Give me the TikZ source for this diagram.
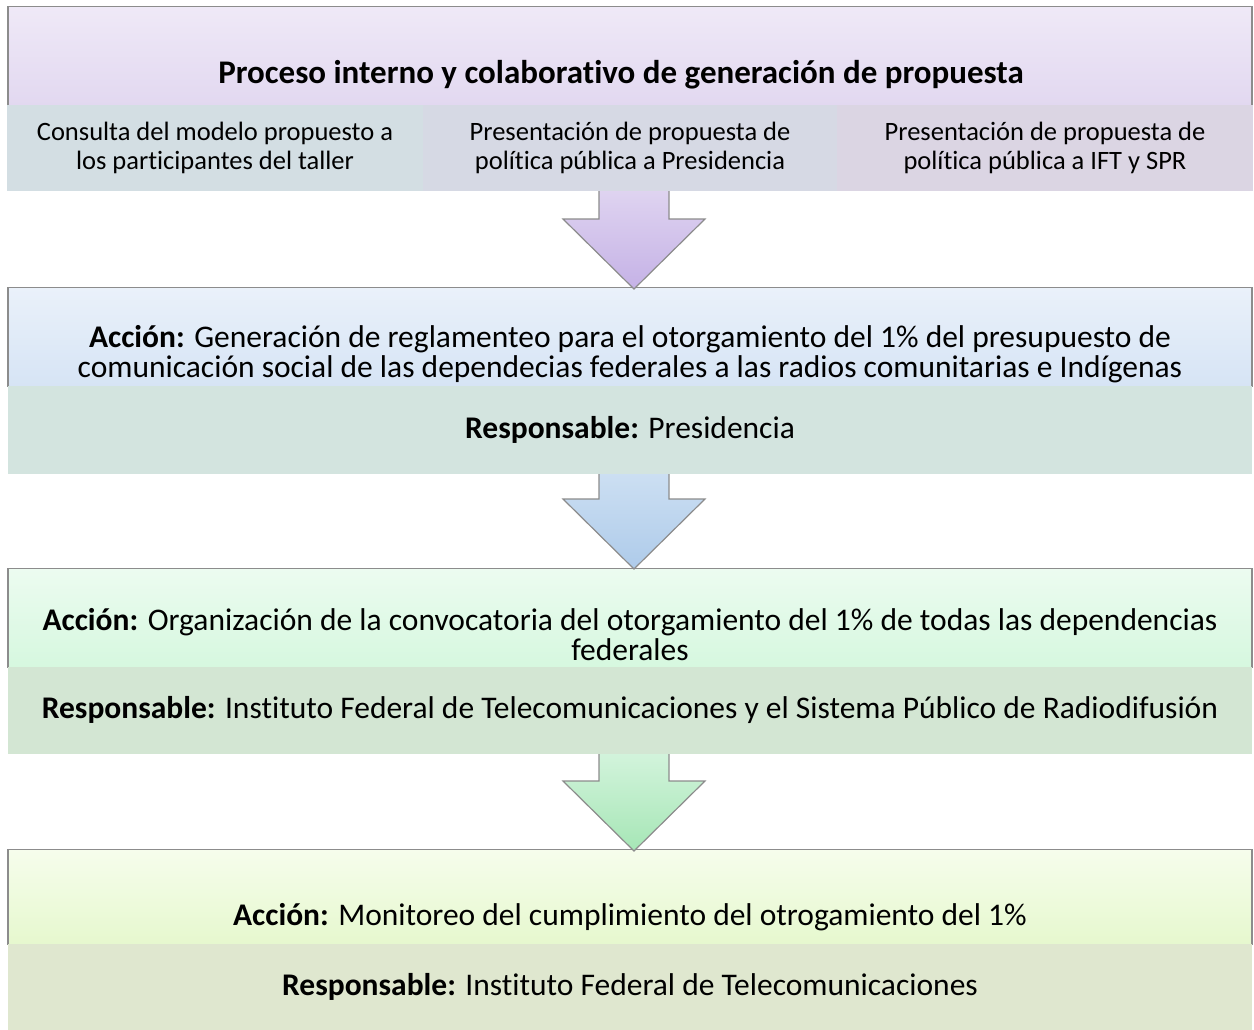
\documentclass[tikz,border=0pt]{standalone}
\usepackage{fontspec}
\setmainfont{Carlito}[Ligatures=NoCommon]
\usetikzlibrary{calc,positioning}

\definecolor{frame}{HTML}{8C8C8C}
\definecolor{headAtop}{HTML}{EFE9F7}
\definecolor{headAbot}{HTML}{E2D8F0}
\definecolor{cellA}{HTML}{D3DEE3}
\definecolor{cellB}{HTML}{D6D9E4}
\definecolor{cellC}{HTML}{DBD5E3}
\definecolor{arrAtop}{HTML}{E3D9F2}
\definecolor{arrAbot}{HTML}{C5B2E6}
\definecolor{headBtop}{HTML}{EAF1FA}
\definecolor{headBbot}{HTML}{D6E4F5}
\definecolor{subB}{HTML}{D3E4DF}
\definecolor{arrBtop}{HTML}{D2E3F4}
\definecolor{arrBbot}{HTML}{AECBEA}
\definecolor{headCtop}{HTML}{ECFBF0}
\definecolor{headCbot}{HTML}{D6F8DF}
\definecolor{subC}{HTML}{D3E6D3}
\definecolor{arrCtop}{HTML}{DAF6E2}
\definecolor{arrCbot}{HTML}{A6E6B6}
\definecolor{headDtop}{HTML}{F6FDEC}
\definecolor{headDbot}{HTML}{E6F8CE}
\definecolor{subD}{HTML}{DFE7CF}

\begin{document}
\begin{tikzpicture}[x=1pt,y=1pt,
    headbox/.style={draw=frame, line width=1.2pt, minimum width=1244pt, minimum height=99pt, inner sep=0pt, anchor=north},
    subbox/.style={minimum width=1244pt, minimum height=87pt, inner sep=0pt, outer sep=0pt, align=center, font=\fontsize{31.5}{30}\selectfont},
    cellbox/.style={minimum width=416pt, minimum height=86pt, inner sep=0pt, outer sep=0pt, align=center, font=\fontsize{26.5}{28.5}\selectfont},
    acttext/.style={align=center, inner sep=0pt, font=\fontsize{31.5}{30}\selectfont},
    bigarrow/.style={draw=frame, line width=1.2pt}]
    \useasboundingbox (0,0) rectangle (1254,-1029);

    % bands
    \node[headbox, top color=headAtop, bottom color=headAbot] (h1) at (630,-6) {};
    \node[headbox, top color=headBtop, bottom color=headBbot] (h2) at (630,-287) {};
    \node[headbox, top color=headCtop, bottom color=headCbot] (h3) at (630,-568) {};
    \node[headbox, minimum height=95pt, top color=headDtop, bottom color=headDbot] (h4) at (630,-849) {};

    % arrows
    \coordinate (t1) at ($(h2.north)+(4,-2)$);
    \coordinate (t2) at ($(h3.north)+(4,-1)$);
    \coordinate (t3) at ($(h4.north)+(4,-2)$);
    \draw[bigarrow, top color=arrAtop, bottom color=arrAbot] (t1) -- ++(-71,70) -- ++(36,0) -- ++(0,45) -- ++(70,0) -- ++(0,-45) -- ++(36,0) -- cycle;
    \draw[bigarrow, top color=arrBtop, bottom color=arrBbot] (t2) -- ++(-71,70) -- ++(36,0) -- ++(0,45) -- ++(70,0) -- ++(0,-45) -- ++(36,0) -- cycle;
    \draw[bigarrow, top color=arrCtop, bottom color=arrCbot] (t3) -- ++(-71,70) -- ++(36,0) -- ++(0,45) -- ++(70,0) -- ++(0,-45) -- ++(36,0) -- cycle;

    % lower parts
    \node[cellbox, fill=cellB, below=-1.5pt of h1] (c2) {Presentación de propuesta de\\política pública a Presidencia};
    \node[cellbox, fill=cellA, left=-1pt of c2] (c1) {Consulta del modelo propuesto a\\los participantes del taller};
    \node[cellbox, fill=cellC, right=-1pt of c2] (c3) {Presentación de propuesta de\\política pública a IFT y SPR};
    \node[subbox, minimum height=88pt, fill=subB, below=-1.5pt of h2] (s2) {\textbf{Responsable:} Presidencia};
    \node[subbox, fill=subC, below=-1.5pt of h3] (s3) {\textbf{Responsable:} Instituto Federal de Telecomunicaciones y el Sistema Público de Radiodifusión};
    \node[subbox, minimum height=86pt, fill=subD, below=-1.5pt of h4] (s4) {\textbf{Responsable:} Instituto Federal de Telecomunicaciones};

    % header texts
    \node[acttext, font=\fontsize{33}{33}\bfseries] (a1) at ([xshift=-9,yshift=31]h1.south) {Proceso interno y colaborativo de generación de propuesta};
    \node[acttext] (a2) at ([yshift=33]h2.south) {\textbf{Acción:} Generación de reglamenteo para el otorgamiento del 1\% del presupuesto de\\comunicación social de las dependecias federales a las radios comunitarias e Indígenas};
    \node[acttext] (a3) at ([yshift=34]h3.south) {\textbf{Acción:} Organización de la convocatoria del otorgamiento del 1\% de todas las dependencias\\federales};
    \node[acttext] (a4) at ([yshift=28]h4.south) {\textbf{Acción:} Monitoreo del cumplimiento del otrogamiento del 1\%};
\end{tikzpicture}
\end{document}
